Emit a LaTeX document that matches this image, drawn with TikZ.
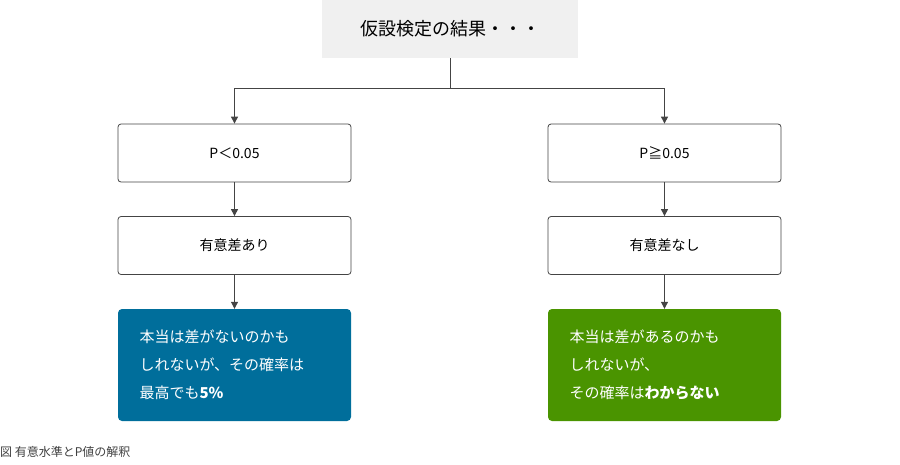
\documentclass[tikz,border=0pt]{standalone}
\usepackage{fontspec}
\setmainfont{Noto Sans CJK JP}
\usetikzlibrary{arrows.meta}
\definecolor{bl}{HTML}{006E9B}
\definecolor{gr}{HTML}{4A9400}
\definecolor{ln}{HTML}{444444}
\begin{document}
\begin{tikzpicture}[x=1pt,y=-1pt,
 box/.style={draw=ln,line width=0.8pt,rounded corners=3pt,minimum width=233pt,minimum height=58pt,font=\fontsize{14}{18}\selectfont,fill=white},
 cbox/.style={rounded corners=4pt,minimum width=233pt,minimum height=112pt,text=white,font=\fontsize{15}{28}\selectfont,align=left,text width=190pt},
 arr/.style={ln,line width=1pt,-{Triangle[length=7pt,width=7pt]}}]
\useasboundingbox (0,0) rectangle (900,464);
\node[fill=black!6,minimum width=256pt,minimum height=58pt,font=\fontsize{18}{22}\selectfont] (top) at (450,29) {仮設検定の結果・・・};
\node[box] (l1) at (234.5,153) {P＜0.05};
\node[box] (r1) at (664.5,153) {P≧0.05};
\node[box] (l2) at (234.5,245.5) {有意差あり};
\node[box] (r2) at (664.5,245.5) {有意差なし};
\node[cbox,fill=bl] (l3) at (234.5,365) {本当は差がないのかも\\しれないが、その確率は\\最高でも\textbf{5\%}};
\node[cbox,fill=gr] (r3) at (664.5,365) {本当は差があるのかも\\しれないが、\\その確率は\textbf{わからない}};
\coordinate (j) at (450,88);
\draw[ln,line width=1pt] (top.south) -- (j);
\draw[arr] (j) -| (l1.north);
\draw[arr] (j) -| (r1.north);
\draw[arr] (l1) -- (l2);
\draw[arr] (r1) -- (r2);
\draw[arr] (l2) -- (l3);
\draw[arr] (r2) -- (r3);
\node[anchor=west,inner sep=0pt,font=\fontsize{12}{14}\selectfont,text=black!75] (cap) at (0,452) {図 有意水準とP値の解釈};
\end{tikzpicture}
\end{document}
